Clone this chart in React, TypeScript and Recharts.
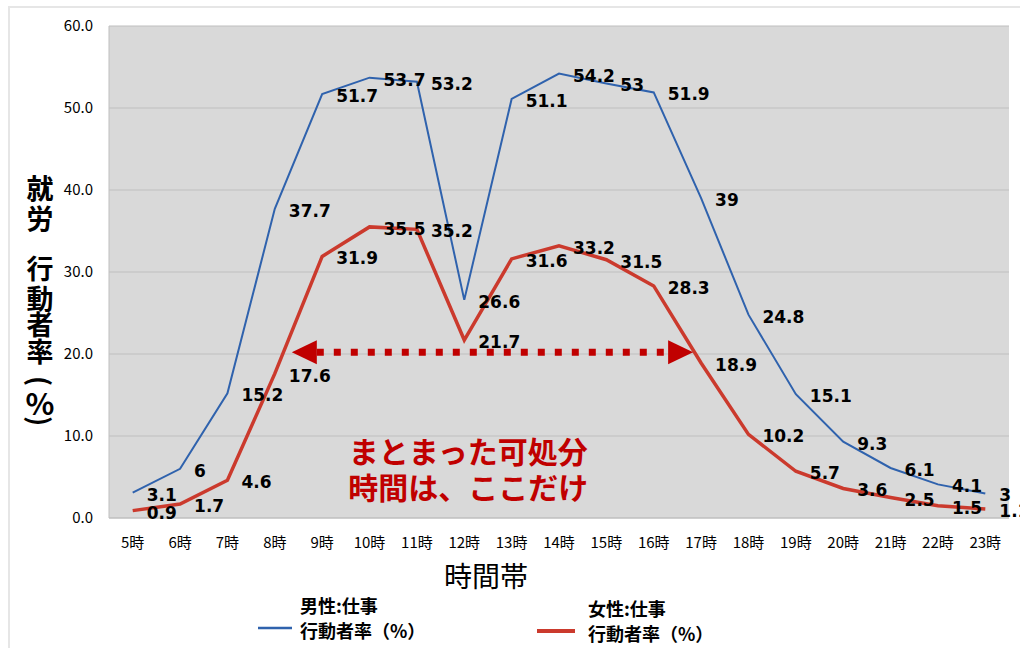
import React from 'react';
import {
  LineChart,
  Line,
  XAxis,
  YAxis,
  CartesianGrid,
  LabelList,
  ReferenceLine,
  ReferenceDot,
  Legend,
  Label,
} from 'recharts';

const hours = ['5時', '6時', '7時', '8時', '9時', '10時', '11時', '12時', '13時', '14時', '15時', '16時', '17時', '18時', '19時', '20時', '21時', '22時', '23時'];
const maleWork = [3.1, 6, 15.2, 37.7, 51.7, 53.7, 53.2, 26.6, 51.1, 54.2, 53, 51.9, 39, 24.8, 15.1, 9.3, 6.1, 4.1, 3];
const femaleWork = [0.9, 1.7, 4.6, 17.6, 31.9, 35.5, 35.2, 21.7, 31.6, 33.2, 31.5, 28.3, 18.9, 10.2, 5.7, 3.6, 2.5, 1.5, 1.1];
const yTicks = [0, 10, 20, 30, 40, 50, 60];
const maleName = ['男性:仕事', '行動者率（%）'];
const femaleName = ['女性:仕事', '行動者率（%）'];
const xTitle = '時間帯';
const yTitle = ['就', '労', '行', '動', '者', '率', '(', '%', ')'];
const arrowFrom = '8時';
const arrowTo = '17時';
const arrowValue = 20.2;
const noteAt = '12時';
const noteValue = 8.05;
const noteLines = ['まとまった可処分', '時間は、ここだけ'];

const data = hours.map((h, i) => ({ hour: h, male: maleWork[i], female: femaleWork[i] }));

const BLUE = '#2f62ad';
const RED = '#cb3a2d';
const NOTE_RED = '#c00000';
const JP = '"Noto Sans CJK JP", "Noto Sans", sans-serif';

const renderValueLabel = (props: any) => {
  const { x, y, value } = props;
  return (
    <text x={x + 14} y={y + 8} fontFamily='"DejaVu Sans", sans-serif' fontWeight="bold" fontSize={17} fill="#000">
      {String(value)}
    </text>
  );
};

const ArrowShape = (props: any) => {
  const { x1, y1, x2 } = props;
  const left = x1 + 17;
  const right = x2 - 8;
  const head = 25;
  const half = 12;
  return (
    <g>
      <line x1={left + head} y1={y1} x2={right - head} y2={y1} stroke={NOTE_RED} strokeWidth={7} strokeDasharray="7 10" />
      <polygon points={`${left},${y1} ${left + head},${y1 - half} ${left + head},${y1 + half}`} fill={NOTE_RED} />
      <polygon points={`${right},${y1} ${right - head},${y1 - half} ${right - head},${y1 + half}`} fill={NOTE_RED} />
    </g>
  );
};

const NoteShape = (props: any) => {
  const { cx, cy } = props;
  return (
    <text x={cx + 4} y={cy} textAnchor="middle" fontFamily={JP} fontWeight="bold" fontSize={30} fill={NOTE_RED}>
      {noteLines.map((t, i) => (
        <tspan key={i} x={cx + 4} y={cy + 11 + i * 36}>
          {t}
        </tspan>
      ))}
    </text>
  );
};

const YTitle = (props: any) => {
  const vb = props.viewBox || { x: 9, y: 26 };
  const cx = vb.x + 31;
  const offs = [161, 191, 241, 271, 297, 324, 355, 376, 395];
  return (
    <g>
      {yTitle.map((c, i) => {
        const y = vb.y + offs[i];
        const paren = c === '(' || c === ')';
        return (
          <text
            key={i}
            x={cx}
            y={y}
            textAnchor="middle"
            dominantBaseline="central"
            fontFamily={JP}
            fontWeight="bold"
            fontSize={c === '%' ? 30 : 27}
            fill="#000"
            transform={paren ? `rotate(90 ${cx} ${y})` : undefined}
          >
            {c}
          </text>
        );
      })}
    </g>
  );
};

const XTitle = (props: any) => {
  const vb = props.viewBox || { x: 109, y: 518 };
  return (
    <text x={vb.x + 377} y={vb.y + 57} textAnchor="middle" dominantBaseline="central" fontFamily={JP} fontSize={28} fill="#000">
      {xTitle}
    </text>
  );
};

const legendItems = [
  { name: maleName, color: BLUE, width: 2.5, lx: 258, lw: 34, tx: 300, ty: 605 },
  { name: femaleName, color: RED, width: 4, lx: 537, lw: 38, tx: 588, ty: 608 },
];

const LegendContent = () => (
  <svg width={1020} height={60} style={{ position: 'absolute', left: 0, top: 590, overflow: 'visible' }}>
    {legendItems.map((it, i) => (
      <g key={i}>
        <line x1={it.lx} x2={it.lx + it.lw} y1={it.ty + 23 - 590} y2={it.ty + 23 - 590} stroke={it.color} strokeWidth={it.width} />
        {it.name.map((t, j) => (
          <text key={j} x={it.tx} y={it.ty - 590 + j * 25} dominantBaseline="central" fontFamily={JP} fontWeight="bold" fontSize={18} fill="#000">
            {t}
          </text>
        ))}
      </g>
    ))}
  </svg>
);

export default function App() {
  return (
    <div style={{ position: 'absolute', left: 0, top: 0, width: 1020, height: 648, overflow: 'hidden', background: '#fff' }}>
      <style>{'body{overflow:hidden;margin:0}'}</style>
      <div style={{ position: 'absolute', left: 8, top: 6, width: 1100, height: 700, borderLeft: '2px solid #e6e6e6', borderTop: '2px solid #e6e6e6' }} />
      <div style={{ position: 'absolute', left: 0, top: 0 }}>
        <LineChart width={1020} height={648} data={data} margin={{ top: 26, right: 11, left: 9, bottom: 100 }}>
          <CartesianGrid vertical={false} stroke="#bfbfbf" fill="#d9d9d9" />
          <XAxis
            dataKey="hour"
            height={30}
            padding={{ left: 23.7, right: 23.7 }}
            tickLine={false}
            tickSize={0}
            tickMargin={19}
            axisLine={{ stroke: '#bfbfbf' }}
            tick={{ fontFamily: JP, fontSize: 15, fill: '#000' }}
            interval={0}
          >
            <Label content={<XTitle />} />
          </XAxis>
          <YAxis
            width={100}
            domain={[0, 60]}
            ticks={yTicks}
            tickLine={false}
            tickSize={0}
            tickMargin={16}
            axisLine={{ stroke: '#bfbfbf' }}
            tickFormatter={(v: number) => v.toFixed(1)}
            tick={{ fontFamily: JP, fontSize: 15, fill: '#000' }}
          >
            <Label content={<YTitle />} />
          </YAxis>
          <Legend verticalAlign="top" wrapperStyle={{ position: 'absolute', left: 0, top: 0, width: 0, height: 0 }} content={<LegendContent />} />
          <Line type="linear" dataKey="male" name={maleName.join('')} stroke={BLUE} strokeWidth={2} dot={false} isAnimationActive={false}>
            <LabelList dataKey="male" content={renderValueLabel} />
          </Line>
          <Line type="linear" dataKey="female" name={femaleName.join('')} stroke={RED} strokeWidth={3.5} dot={false} isAnimationActive={false}>
            <LabelList dataKey="female" content={renderValueLabel} />
          </Line>
          <ReferenceLine
            segment={[
              { x: arrowFrom, y: arrowValue },
              { x: arrowTo, y: arrowValue },
            ]}
            shape={<ArrowShape />}
          />
          <ReferenceDot x={noteAt} y={noteValue} r={0} shape={<NoteShape />} />
        </LineChart>
      </div>
    </div>
  );
}
